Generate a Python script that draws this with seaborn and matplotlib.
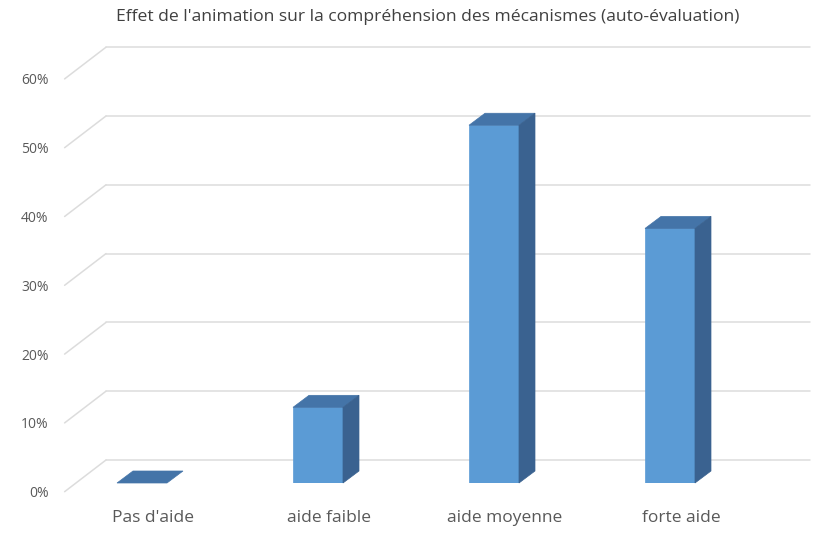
import matplotlib
matplotlib.use("Agg")
import matplotlib.pyplot as plt
import matplotlib.transforms as mtransforms
from matplotlib.patches import Polygon
import pandas as pd
import seaborn as sns

# -------- data --------
categories = ["Pas d'aide", "aide faible", "aide moyenne", "forte aide"]
values = [0.0, 0.11, 0.52, 0.37]
yticks = [0.0, 0.1, 0.2, 0.3, 0.4, 0.5, 0.6]
ytick_labels = ["0%", "10%", "20%", "30%", "40%", "50%", "60%"]
title = "Effet de l'animation sur la compréhension des mécanismes (auto-évaluation)"

front_col = "#5B9BD5"
top_col = "#4474A8"
side_col = "#3A6290"
grid_col = "#DCDCDC"
text_col = "#595959"

df = pd.DataFrame({"cat": categories, "val": values})

sns.set_style("white")
plt.rcParams["font.family"] = ["Open Sans", "DejaVu Sans"]

DPI = 100
fig = plt.figure(figsize=(8.16, 5.37), dpi=DPI)
# axes = bar front plane, 0% at y=483px, 60% at ~70px
ax = fig.add_axes([76 / 816, 54 / 537, 704 / 816, 412.8 / 537])
ax.patch.set_alpha(0)

sns.barplot(data=df, x="cat", y="val", color=front_col, width=0.284,
            saturation=1, ax=ax, zorder=3)
ax.set_xlim(-0.375, 3.625)
ax.set_ylim(0, 0.6)
ax.set_xlabel("")
ax.set_ylabel("")
sns.despine(ax=ax, left=True, bottom=True)


def shift(dx, dy):
    # offset in pixels (dy positive = up)
    return mtransforms.ScaledTranslation(dx / DPI, dy / DPI, fig.dpi_scale_trans)


# oblique depth: back wall, bar back face, label plane
back_wall = shift(30, 23)
bar_back = (16, 12)
label_plane = shift(-11.4, -8.7)

# grid: diagonal on side wall + horizontal on back wall
x0, x1 = ax.get_xlim()
for v in yticks:
    ax.plot([x0, x1], [v, v], color=grid_col, lw=1.1, zorder=0,
            transform=ax.transData + back_wall, clip_on=False)
    p1 = (ax.transData + label_plane).transform((x0, v))
    p2 = (ax.transData + back_wall).transform((x0, v))
    fig.add_artist(plt.Line2D([p1[0], p2[0]], [p1[1], p2[1]], color=grid_col,
                              lw=1.1, transform=None, zorder=1))

# 3D top and side faces built from the drawn bars
inv = ax.transData.inverted()
for bar in ax.patches:
    bx, by = bar.get_x(), bar.get_y()
    bw, bh = bar.get_width(), bar.get_height()
    fl, fr = bx, bx + bw
    ft = by + bh

    def back(pt):
        d = ax.transData.transform(pt)
        return inv.transform((d[0] + bar_back[0], d[1] + bar_back[1]))

    top = [(fl, ft), (fr, ft), back((fr, ft)), back((fl, ft))]
    ax.add_patch(Polygon(top, closed=True, facecolor=top_col, edgecolor=top_col,
                         lw=0.5, zorder=3, clip_on=False))
    if bh > 0:
        side = [(fr, by), (fr, ft), back((fr, ft)), back((fr, by))]
        ax.add_patch(Polygon(side, closed=True, facecolor=side_col,
                             edgecolor=side_col, lw=0.5, zorder=3, clip_on=False))
    bar.set_edgecolor(front_col)
    bar.set_linewidth(0.5)

# ticks
ax.set_yticks(yticks, ytick_labels)
ax.tick_params(axis="y", length=0, pad=11.5, labelsize=10, labelcolor=text_col)
ax.tick_params(axis="x", length=0, pad=19.5, labelsize=12.5, labelcolor=text_col)
for lab in ax.get_yticklabels():
    lab.set_transform(lab.get_transform() + label_plane)
for lab in ax.get_xticklabels():
    lab.set_transform(lab.get_transform() + shift(11, 0))

fig.text(428 / 816, 1 - 17 / 537, title, ha="center", va="center",
         fontsize=12.6, color="#404040")

fig.savefig("out.png", dpi=DPI, facecolor="white")
